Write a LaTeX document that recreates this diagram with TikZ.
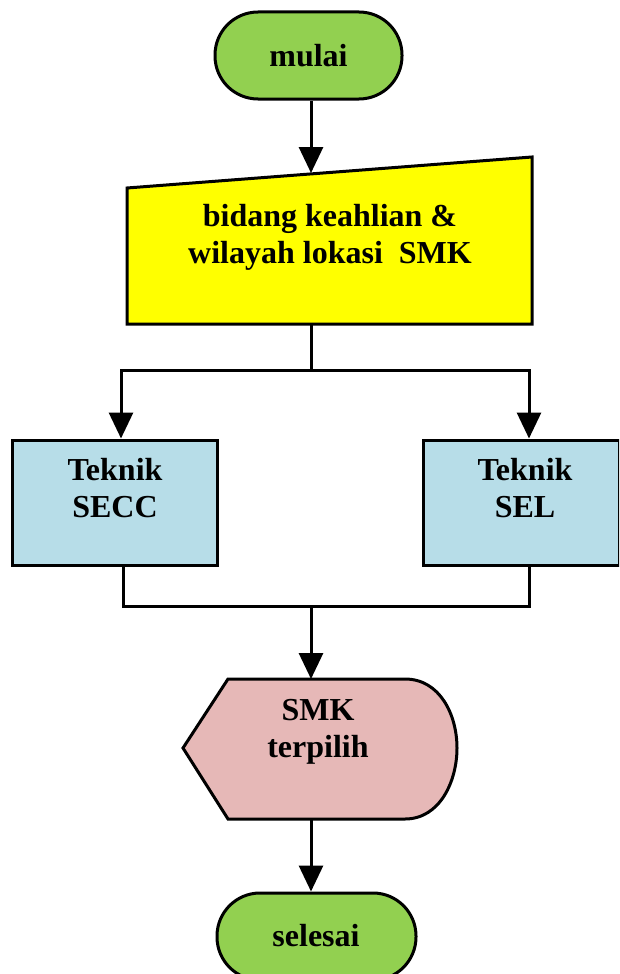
\documentclass[tikz,border=0pt]{standalone}
\usepackage{fontspec}
\setmainfont{Liberation Serif}
\usetikzlibrary{arrows.meta}
\definecolor{termgreen}{HTML}{92D050}
\definecolor{inputyellow}{HTML}{FFFF00}
\definecolor{procblue}{HTML}{B7DDE8}
\definecolor{disppink}{HTML}{E6B8B7}
\tikzset{
  shapeline/.style={draw=black, line width=3pt, line join=miter},
  terminal/.style={shapeline, fill=termgreen, rounded corners=43pt, minimum width=187pt, minimum height=87pt, inner sep=0pt},
  procbox/.style={shapeline, fill=procblue, minimum width=205pt, minimum height=125pt, inner sep=0pt},
  label/.style={font=\fontsize{32}{37}\selectfont\bfseries, align=center, inner sep=0pt},
  flow/.style={line width=3pt, -{Triangle[width=24pt,length=26pt]}},
  link/.style={line width=3pt}
}
\begin{document}
\begin{tikzpicture}[x=1pt,y=-1pt]
  \clip (0,0) rectangle (619,974);
  \useasboundingbox (0,0) rectangle (619,974);

  % start terminal
  \node[terminal, label] (mulai) at (308.5,55.5) {mulai};

  % manual input: sloped top edge
  \draw[shapeline, fill=inputyellow] (127,188) -- (532,157) -- (532,324) -- (127,324) -- cycle;
  \node[label] (input) at (330,237) {bidang keahlian \&\\wilayah lokasi\ \ SMK};
  \coordinate (inTop) at (311,173);
  \coordinate (inBot) at (311,324);

  % process boxes
  \node[procbox] (secc) at (114.5,502.5) {};
  \node[procbox, minimum width=196pt] (sel) at (521,502.5) {};
  \node[label] at (115,488) {Teknik\\SECC};
  \node[label] at (525,488) {Teknik\\SEL};

  % display shape
  \draw[shapeline, fill=disppink] (183,748) -- (228,679) -- (405,679)
     .. controls (440,679) and (457,715) .. (457,748)
     .. controls (457,781) and (440,819) .. (405,819) -- (228,819) -- cycle;
  \node[label] (disp) at (318,732) {SMK\\terpilih};
  \coordinate (dispTop) at (311,679);
  \coordinate (dispBot) at (311,819);

  % end terminal
  \node[terminal, minimum width=199pt] (selesai) at (316.5,936.5) {};
  \node[label] at (316,936) {selesai};

  % split and merge points
  \coordinate (splitC) at (311,370);
  \coordinate (splitL) at (121,370);
  \coordinate (splitR) at (529,370);
  \coordinate (mergeL) at (123,606);
  \coordinate (mergeR) at (529,606);
  \coordinate (mergeC) at (311,606);

  % connectors
  \draw[flow] (mulai.south -| inTop) -- (inTop);
  \draw[link] (inBot) -- (splitC);
  \draw[link, line cap=rect] (splitL) -- (splitR);
  \draw[flow] (splitL) -- (splitL |- secc.north);
  \draw[flow] (splitR) -- (splitR |- sel.north);
  \draw[link] (secc.south -| mergeL) -- (mergeL);
  \draw[link] (sel.south -| mergeR) -- (mergeR);
  \draw[link, line cap=rect] (mergeL) -- (mergeR);
  \draw[flow] (mergeC) -- (dispTop);
  \draw[flow] (dispBot) -- (selesai.north -| dispBot);
\end{tikzpicture}
\end{document}
